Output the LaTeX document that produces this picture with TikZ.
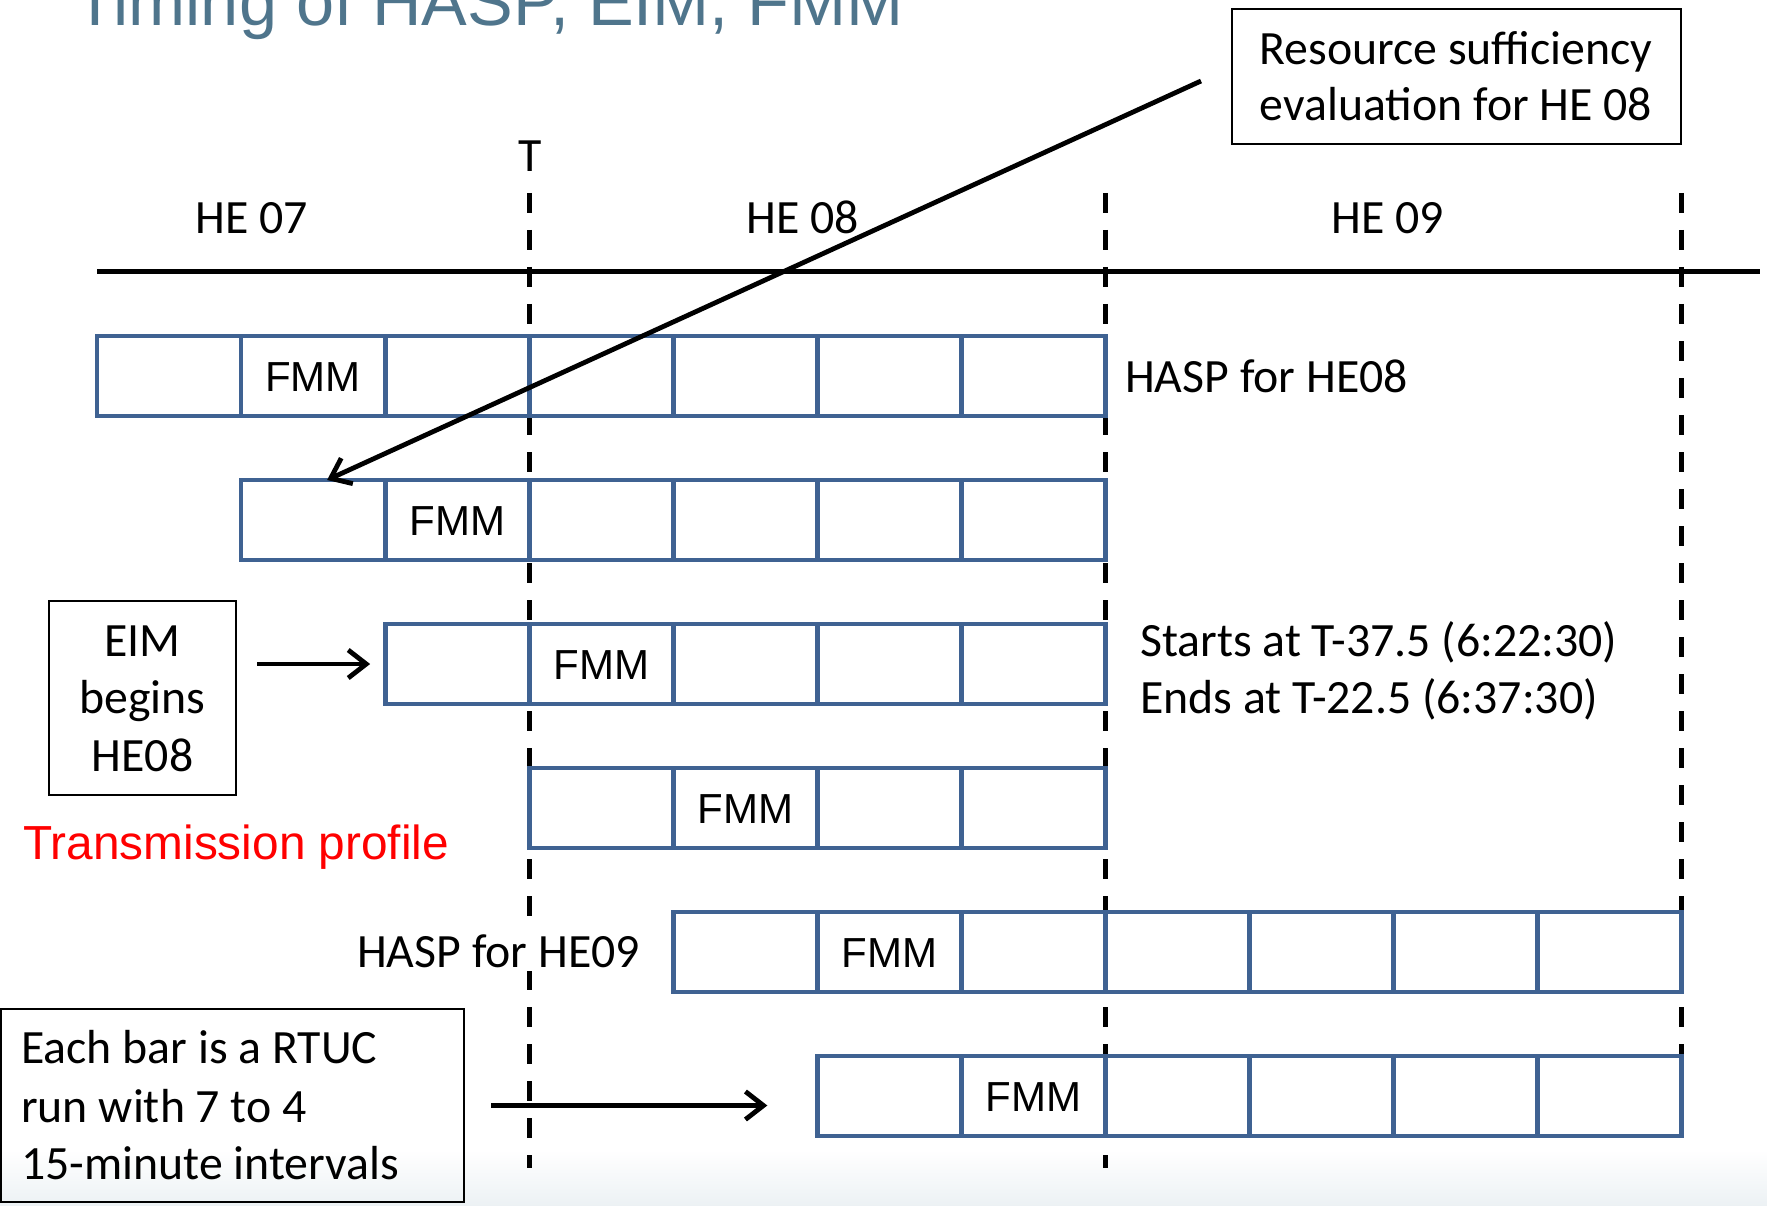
\documentclass[tikz,border=0pt]{standalone}
\usepackage{fontspec}
\setmainfont{Carlito}
\newfontfamily\arialf{Liberation Sans}
\usetikzlibrary{arrows.meta}
\definecolor{barblue}{RGB}{63,98,146}
\definecolor{titleblue}{RGB}{79,117,140}
\definecolor{fadeblue}{RGB}{236,241,244}
\begin{document}
\begin{tikzpicture}[x=1pt,y=-1pt,
  txt/.style={inner sep=0pt, font=\fontsize{47.8}{58}\selectfont},
  fmm/.style={inner sep=0pt, font=\arialf\fontsize{42}{50}\selectfont},
  cell/.style={draw=barblue, line width=4.8pt, minimum width=144.07pt, minimum height=80pt, inner sep=0pt, outer sep=0pt, anchor=north west},
  hedash/.style={line width=5pt, dash pattern=on 20pt off 17pt},
  arr/.style={line width=4.8pt, -{Straight Barb[length=18pt,width=28pt]}},
  frame/.style={draw, line width=2.4pt, inner sep=0pt, outer sep=0pt}]
\useasboundingbox (0,0) rectangle (1767,1206);
\clip (0,0) rectangle (1767,1206);
\shade[top color=white, bottom color=fadeblue] (0,1150) rectangle (1767,1206);

% title
\node[anchor=base west, inner sep=0pt, text=titleblue, font=\arialf\fontsize{68.5}{80}\selectfont] (title) at (74,26) {Timing of HASP, EIM, FMM};

% hour boundaries
\draw[hedash] (529.2,193) -- (529.2,1168);
\draw[hedash] (1105.5,193) -- (1105.5,1168);
\draw[hedash] (1681.8,193) -- (1681.8,1145);

% timeline
\draw[line width=4.8pt] (97,271.6) -- (1760,271.6);
\node[txt, anchor=base] (tlab) at (530,172) {T};
\node[txt, anchor=base] (he07) at (252,234) {HE 07};
\node[txt, anchor=base] (he08) at (803,234) {HE 08};
\node[txt, anchor=base] (he09) at (1388,234) {HE 09};

% bars
\foreach \r/\a/\b/\f in {1/0/6/1, 2/1/6/2, 3/2/6/3, 4/3/6/4, 5/4/10/5, 6/5/10/6} {
  \foreach \i in {\a,...,\b} {
    \node[cell] (c\r-\i) at ({97+144.07*\i},{336+144*(\r-1)}) {};
  }
  \node[fmm, anchor=base] (f\r) at ([yshift=-15pt]c\r-\f.center) {FMM};
}

% labels
\node[txt, anchor=base west] (hasp8) at (1125,392) {HASP for HE08};
\node[txt, anchor=base west] (starts) at (1140,656) {Starts at T-37.5 (6:22:30)};
\node[txt, anchor=base west] (ends) at (1140,713) {Ends at T-22.5 (6:37:30)};
\node[txt, anchor=base west, fill=white, inner ysep=4pt, inner xsep=0pt] (hasp9) at (357,967) {HASP for HE09};
\node[anchor=base west, inner sep=0pt, text=red, font=\arialf\fontsize{47.8}{56}\selectfont] (tp) at (23,859) {Transmission profile};

% resource sufficiency box
\node[frame, minimum width=449pt, minimum height=135pt] (rs) at (1456.5,76.5) {};
\node[txt, anchor=base] (rs1) at (1456,65) {Resource sufficiency};
\node[txt, anchor=base] (rs2) at (1456,121) {evaluation for HE 08};

% EIM box
\node[frame, minimum width=187pt, minimum height=194pt] (eim) at (142.5,698) {};
\node[txt, anchor=base] (eim1) at (142.5,656) {EIM};
\node[txt, anchor=base] (eim2) at (142.5,713.5) {begins};
\node[txt, anchor=base] (eim3) at (142.5,771) {HE08};

% each bar box
\node[frame, minimum width=463pt, minimum height=193pt] (each) at (232.5,1105.5) {};
\node[txt, anchor=base west] (each1) at (21,1063) {Each bar is a RTUC};
\node[txt, anchor=base west] (each2) at (21,1122) {run with 7 to 4};
\node[txt, anchor=base west] (each3) at (21,1179) {15-minute intervals};

% arrows
\coordinate (dstart) at ([xshift=-31pt,yshift=-4.5pt]rs.west);
\coordinate (dend) at ([xshift=14pt]c2-1.north);
\draw[arr] (dstart) -- (dend);
\coordinate (ea) at ([xshift=21pt]eim.east);
\coordinate (eb) at ([xshift=-15pt]c3-2.west);
\draw[arr] (ea |- eb) -- (eb);
\coordinate (ba) at ([xshift=27pt]each.east);
\coordinate (bb) at ([xshift=-50pt]c6-5.west);
\draw[arr] (ba) -- (bb |- ba);
\end{tikzpicture}
\end{document}
